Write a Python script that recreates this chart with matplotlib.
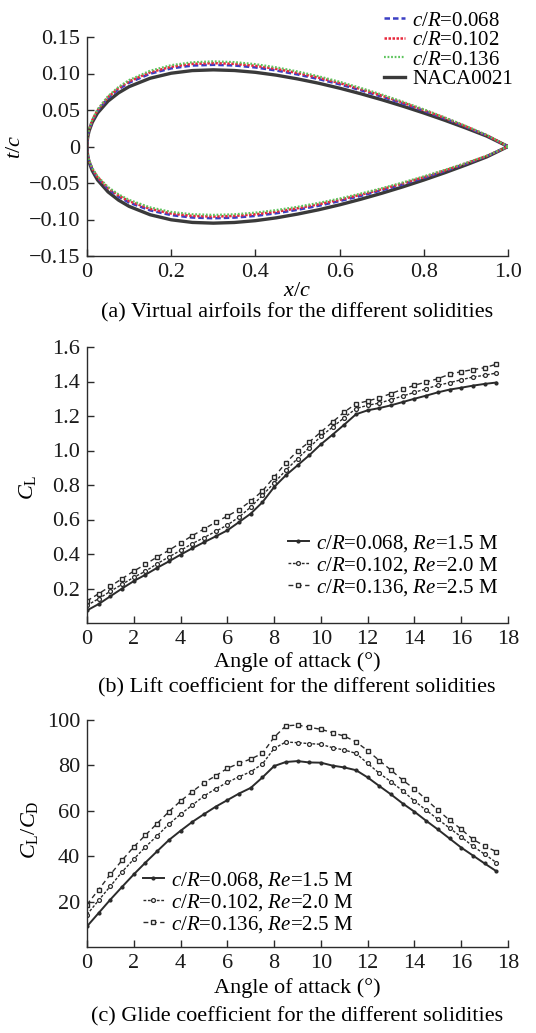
import numpy as np
import matplotlib
matplotlib.use("Agg")
import matplotlib.pyplot as plt

plt.rcParams["font.family"] = ["Liberation Serif", "DejaVu Serif"]
plt.rcParams["mathtext.fontset"] = "custom"
plt.rcParams["mathtext.rm"] = "Liberation Serif"
plt.rcParams["mathtext.it"] = "Liberation Serif:italic"
plt.rcParams["axes.unicode_minus"] = True

FS = 16
LFS = 15
INK = "#2b2b2b"

# ---------------- airfoil contours (chordwise stations) ----------------
x_c = [0, 0.001, 0.0025, 0.005, 0.0125, 0.025, 0.05, 0.075, 0.1, 0.15, 0.2, 0.25,
       0.3, 0.35, 0.4, 0.45, 0.5, 0.55, 0.6, 0.65, 0.7, 0.75, 0.8, 0.85, 0.9,
       0.95, 1.0]

naca0021 = [0, 0.0097, 0.0153, 0.0214, 0.0331, 0.0458, 0.0622, 0.0735, 0.0820,
            0.0935, 0.1004, 0.1040, 0.1050, 0.1041, 0.1016, 0.0977, 0.0926,
            0.0867, 0.0799, 0.0723, 0.0641, 0.0553, 0.0459, 0.0359, 0.0253,
            0.0141, 0]

upper_068 = [0, 0.0103, 0.0163, 0.0228, 0.0353, 0.0488, 0.0663, 0.0784, 0.0874,
             0.0997, 0.1070, 0.1109, 0.1119, 0.1110, 0.1083, 0.1041, 0.0987,
             0.0924, 0.0852, 0.0771, 0.0683, 0.0589, 0.0489, 0.0383, 0.0270,
             0.0150, 0]
lower_068 = [0, -0.0091, -0.0143, -0.0200, -0.0310, -0.0429, -0.0582, -0.0688,
             -0.0768, -0.0875, -0.0940, -0.0973, -0.0983, -0.0974, -0.0951,
             -0.0914, -0.0867, -0.0812, -0.0748, -0.0677, -0.0600, -0.0518,
             -0.0430, -0.0336, -0.0237, -0.0132, 0]
upper_102 = [0, 0.0106, 0.0166, 0.0232, 0.0360, 0.0498, 0.0677, 0.0800, 0.0892,
             0.1017, 0.1092, 0.1132, 0.1142, 0.1133, 0.1105, 0.1063, 0.1007,
             0.0943, 0.0869, 0.0787, 0.0697, 0.0602, 0.0499, 0.0391, 0.0275,
             0.0153, 0]
lower_102 = [0, -0.0089, -0.0140, -0.0195, -0.0303, -0.0419, -0.0569, -0.0672,
             -0.0749, -0.0855, -0.0918, -0.0951, -0.0960, -0.0951, -0.0929,
             -0.0893, -0.0846, -0.0792, -0.0730, -0.0661, -0.0586, -0.0505,
             -0.0420, -0.0328, -0.0231, -0.0129, 0]
upper_136 = [0, 0.0108, 0.0170, 0.0237, 0.0367, 0.0508, 0.0690, 0.0816, 0.0910,
             0.1038, 0.1114, 0.1154, 0.1166, 0.1156, 0.1128, 0.1084, 0.1028,
             0.0962, 0.0887, 0.0803, 0.0712, 0.0614, 0.0509, 0.0398, 0.0281,
             0.0157, 0]
lower_136 = [0, -0.0087, -0.0136, -0.0191, -0.0295, -0.0409, -0.0555, -0.0656,
             -0.0731, -0.0834, -0.0896, -0.0928, -0.0937, -0.0929, -0.0906,
             -0.0871, -0.0826, -0.0773, -0.0713, -0.0645, -0.0572, -0.0493,
             -0.0409, -0.0320, -0.0226, -0.0126, 0]

# ---------------- lift and glide coefficients ----------------
alpha = [0, 0.5, 1, 1.5, 2, 2.5, 3, 3.5, 4, 4.5, 5, 5.5, 6, 6.5, 7, 7.5, 8, 8.5,
         9, 9.5, 10, 10.5, 11, 11.5, 12, 12.5, 13, 13.5, 14, 14.5, 15, 15.5,
         16, 16.5, 17, 17.5]

cl_068 = [0.073, 0.11, 0.155, 0.20, 0.243, 0.28, 0.32, 0.357, 0.396, 0.433,
          0.468, 0.502, 0.537, 0.585, 0.634, 0.70, 0.788, 0.856, 0.914, 0.972,
          1.036, 1.092, 1.15, 1.21, 1.233, 1.246, 1.262, 1.281, 1.30, 1.318,
          1.337, 1.353, 1.364, 1.376, 1.386, 1.394]
cl_102 = [0.102, 0.141, 0.184, 0.224, 0.265, 0.30, 0.344, 0.383, 0.421, 0.46,
          0.495, 0.531, 0.568, 0.614, 0.672, 0.74, 0.812, 0.885, 0.953, 1.016,
          1.082, 1.136, 1.19, 1.243, 1.262, 1.275, 1.295, 1.316, 1.337, 1.358,
          1.378, 1.393, 1.41, 1.426, 1.436, 1.449]
cl_136 = [0.128, 0.17, 0.213, 0.257, 0.301, 0.34, 0.383, 0.421, 0.464, 0.506,
          0.545, 0.584, 0.62, 0.657, 0.707, 0.765, 0.846, 0.928, 0.997, 1.049,
          1.107, 1.165, 1.223, 1.271, 1.287, 1.306, 1.33, 1.355, 1.378, 1.397,
          1.416, 1.442, 1.457, 1.469, 1.48, 1.50]

gl_068 = [9.1, 15.0, 20.9, 26.5, 32.0, 37.2, 42.2, 47.1, 51.2, 55.1, 58.5, 61.8,
          64.7, 67.6, 70.1, 74.7, 79.7, 81.5, 81.9, 81.3, 81.2, 79.9, 79.1, 77.9,
          74.7, 70.9, 67.2, 63.2, 59.6, 55.6, 51.8, 47.8, 43.8, 40.3, 36.8, 33.4]
gl_102 = [14.3, 20.6, 26.8, 33.1, 38.7, 44.1, 49.0, 54.1, 58.5, 62.5, 66.5, 69.7,
          72.5, 75.0, 77.2, 80.6, 87.5, 90.3, 90.0, 89.6, 89.3, 87.8, 86.8, 85.3,
          80.9, 76.5, 72.8, 68.8, 64.3, 60.3, 56.3, 52.4, 48.5, 44.4, 40.9, 37.2]
gl_136 = [18.7, 25.3, 32.0, 38.2, 44.1, 49.3, 54.4, 59.6, 64.3, 68.4, 72.4, 75.4,
          78.7, 80.9, 82.8, 85.3, 92.4, 97.4, 97.8, 96.8, 95.9, 94.4, 92.9, 90.4,
          86.5, 82.1, 77.9, 73.5, 69.6, 65.0, 60.3, 55.9, 51.9, 47.4, 44.5, 42.0]

airfoil_labels = [r"$c/R$=0.068", r"$c/R$=0.102", r"$c/R$=0.136", "NACA0021"]
series_labels = [r"$c/R$=0.068, $Re$=1.5 M",
                 r"$c/R$=0.102, $Re$=2.0 M",
                 r"$c/R$=0.136, $Re$=2.5 M"]

W, H = 536, 1033
fig = plt.figure(figsize=(W / 100, H / 100), dpi=100)


def axes_px(left, top, right, bottom):
    return fig.add_axes([left / W, 1 - bottom / H, (right - left) / W, (bottom - top) / H])


def style(ax):
    for s in ("top", "right"):
        ax.spines[s].set_visible(False)
    for s in ("left", "bottom"):
        ax.spines[s].set_color(INK)
        ax.spines[s].set_linewidth(1.0)
    ax.tick_params(direction="in", length=5, width=1.0, color=INK,
                   labelsize=FS, pad=5, labelcolor="#1a1a1a")


def closed(xs, up, lo):
    xx = list(xs[::-1]) + list(xs[1:])
    yy = list(up[::-1]) + list(lo[1:])
    return xx, yy


# ---------------- (a) airfoils ----------------
axa = axes_px(87, 37, 508, 256)
style(axa)
specs = [
    (upper_068, lower_068, dict(color="#3b3fc4", lw=1.8, ls=(0, (2.2, 1.2)))),
    (upper_102, lower_102, dict(color="#e8283c", lw=1.8, ls=(0, (1.0, 0.6)))),
    (upper_136, lower_136, dict(color="#5cc45c", lw=1.6, ls=(0, (0.8, 0.8)))),
]
handles = []
for (up, lo, kw), lab in zip(specs, airfoil_labels[:3]):
    xx, yy = closed(x_c, up, lo)
    h, = axa.plot(xx, yy, label=lab, **kw)
    handles.append(h)
xx, yy = closed(x_c, naca0021, [-v for v in naca0021])
h, = axa.plot(xx, yy, color="#3a3a3a", lw=2.4, label=airfoil_labels[3], zorder=1)
handles.append(h)
axa.set_xlim(0, 1.0)
axa.set_ylim(-0.15, 0.15)
axa.set_xticks([0, 0.2, 0.4, 0.6, 0.8, 1.0])
axa.set_xticklabels(["0", "0.2", "0.4", "0.6", "0.8", "1.0"])
axa.set_yticks([-0.15, -0.10, -0.05, 0, 0.05, 0.10, 0.15])
axa.set_yticklabels(["\u22120.15", "\u22120.10", "\u22120.05", "0", "0.05", "0.10", "0.15"])
fig.legend(handles=handles, loc="upper left", bbox_to_anchor=(384 / W, 1 - 11 / H),
           frameon=False, fontsize=LFS, handlelength=1.0, handletextpad=0.35,
           labelspacing=0.0, borderaxespad=0, borderpad=0)
fig.text(15 / W, 1 - 147 / H, r"$t/c$", fontsize=FS, rotation=90, ha="center", va="center")
fig.text(297 / W, 1 - 291 / H, r"$x/c$", fontsize=FS, ha="center", va="center")
fig.text(297 / W, 1 - 313 / H, "(a) Virtual airfoils for the different solidities",
         fontsize=FS, ha="center", va="center")

# ---------------- shared line styles for (b) and (c) ----------------
line_styles = [
    dict(color=INK, lw=1.4, ls="-", marker="o", ms=2.0, mfc=INK, mec=INK),
    dict(color=INK, lw=1.0, ls=(0, (2.0, 1.2)), marker="o", ms=2.8, mfc="white", mec=INK, mew=0.9),
    dict(color=INK, lw=1.0, ls=(0, (3.5, 2.5)), marker="s", ms=3.2, mfc="white", mec=INK, mew=1.0),
]


def data_panel(ax, ys, ylim, yticks, ylabels, leg_anchor):
    style(ax)
    hs = []
    for y, kw, lab in zip(ys, line_styles, series_labels):
        h, = ax.plot(alpha, y, label=lab, **kw)
        hs.append(h)
    ax.set_xlim(0, 18)
    ax.set_ylim(*ylim)
    ax.set_xticks(range(0, 19, 2))
    ax.set_yticks(yticks)
    ax.set_yticklabels(ylabels)
    fig.legend(handles=hs, loc="upper left", bbox_to_anchor=leg_anchor, frameon=False,
               fontsize=LFS, handlelength=1.0, handletextpad=0.35, labelspacing=0.05,
               borderaxespad=0, borderpad=0)


# ---------------- (b) lift coefficient ----------------
axb = axes_px(87, 347, 508, 623)
data_panel(axb, [cl_068, cl_102, cl_136], (0, 1.6),
           [0.2, 0.4, 0.6, 0.8, 1.0, 1.2, 1.4, 1.6],
           ["0.2", "0.4", "0.6", "0.8", "1.0", "1.2", "1.4", "1.6"],
           (288 / W, 1 - 533 / H))
fig.text(28 / W, 1 - 487 / H, r"$C_{\mathrm{L}}$", fontsize=FS, rotation=90, ha="center", va="center")
fig.text(297 / W, 1 - 662 / H, "Angle of attack (\u00b0)", fontsize=FS, ha="center", va="center")
fig.text(297 / W, 1 - 688 / H, "(b) Lift coefficient for the different solidities",
         fontsize=FS, ha="center", va="center")

# ---------------- (c) glide coefficient ----------------
axc = axes_px(87, 720, 508, 947)
data_panel(axc, [gl_068, gl_102, gl_136], (0, 100),
           [20, 40, 60, 80, 100], ["20", "40", "60", "80", "100"],
           (143 / W, 1 - 870 / H))
fig.text(30 / W, 1 - 830 / H, r"$C_{\mathrm{L}}/C_{\mathrm{D}}$", fontsize=FS, rotation=90,
         ha="center", va="center")
fig.text(297 / W, 1 - 988 / H, "Angle of attack (\u00b0)", fontsize=FS, ha="center", va="center")
fig.text(297 / W, 1 - 1017 / H, "(c) Glide coefficient for the different solidities",
         fontsize=FS, ha="center", va="center")

fig.savefig("out.png", dpi=100)
